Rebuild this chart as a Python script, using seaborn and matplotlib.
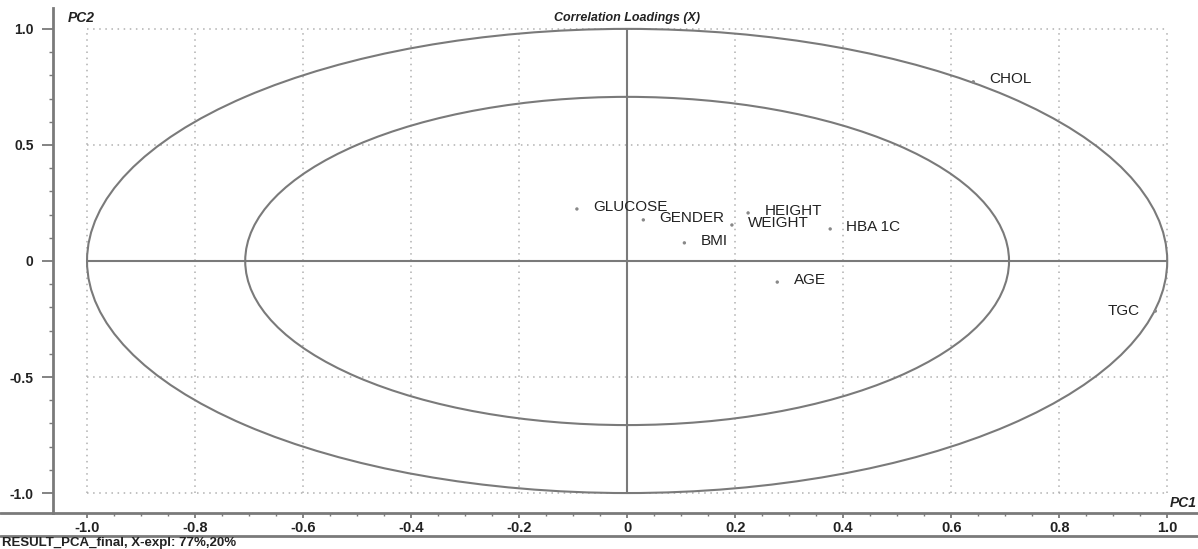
import numpy as np
import pandas as pd
import seaborn as sns
import matplotlib.pyplot as plt
from matplotlib.patches import Circle
from matplotlib.lines import Line2D

# loadings
variables = ['GLUCOSE', 'GENDER', 'BMI', 'WEIGHT', 'HEIGHT', 'HBA 1C', 'AGE', 'CHOL', 'TGC']
pc1 = [-0.093, 0.030, 0.106, 0.194, 0.224, 0.376, 0.278, 0.641, 0.978]
pc2 = [0.224, 0.177, 0.078, 0.155, 0.207, 0.138, -0.091, 0.772, -0.216]

x_ticks = [-1.0, -0.8, -0.6, -0.4, -0.2, 0.0, 0.2, 0.4, 0.6, 0.8, 1.0]
x_labels = ['-1.0', '-0.8', '-0.6', '-0.4', '-0.2', '0', '0.2', '0.4', '0.6', '0.8', '1.0']
y_ticks = [-1.0, -0.5, 0.0, 0.5, 1.0]
y_labels = ['-1.0', '-0.5', '0', '0.5', '1.0']

df = pd.DataFrame({'var': variables, 'PC1': pc1, 'PC2': pc2})

sns.set_style('white')
plt.rcParams['font.family'] = ['Liberation Sans', 'DejaVu Sans']

W, H = 1198, 549
fig = plt.figure(figsize=(W / 100, H / 100), dpi=100)
ax = fig.add_axes([53 / W, (H - 513) / H, (W - 53) / W, (513 - 8) / H])

grey = '#7a7a7a'

# dotted grid inside the unit box
for gx in x_ticks:
    ax.plot([gx, gx], [-1, 1], ls=(0, (1, 3)), color='#b0b0b0', lw=1.1, zorder=1)
for gy in y_ticks:
    ax.plot([-1, 1], [gy, gy], ls=(0, (1, 3)), color='#b0b0b0', lw=1.1, zorder=1)

# 100% and 50% explained variance ellipses
ax.add_patch(Circle((0, 0), 1.0, fill=False, ec=grey, lw=1.5, zorder=2))
ax.add_patch(Circle((0, 0), np.sqrt(0.5), fill=False, ec=grey, lw=1.5, zorder=2))
ax.plot([-1, 1], [0, 0], color=grey, lw=1.5, zorder=2)
ax.plot([0, 0], [-1, 1], color=grey, lw=1.5, zorder=2)

sns.scatterplot(data=df, x='PC1', y='PC2', ax=ax, color='#888888', s=6,
                edgecolor='none', zorder=3)

for _, r in df.iterrows():
    if r['var'] == 'TGC':
        ax.text(r['PC1'] - 0.028, r['PC2'], r['var'], ha='right', va='center',
                fontsize=11, color='#222222')
    else:
        ax.text(r['PC1'] + 0.03, r['PC2'] + 0.01, r['var'], ha='left', va='center',
                fontsize=11, color='#222222')

ax.set_xlim(-1.063, 1.057)
ax.set_ylim(-1.086, 1.09)
ax.set_xlabel('')
ax.set_ylabel('')

ax.set_xticks(x_ticks)
ax.set_xticklabels(x_labels, fontsize=10.5, fontweight='bold', color='#222222')
ax.set_yticks(y_ticks)
ax.set_yticklabels(y_labels, fontsize=10, fontweight='bold', color='#222222')
ax.set_xticks(np.arange(-1.0, 1.01, 0.05), minor=True)
ax.set_yticks(np.arange(-1.0, 1.01, 0.1), minor=True)
ax.tick_params(axis='both', which='both', bottom=True, left=True, direction='out')
ax.tick_params(axis='y', which='major', length=8, width=1.3, color=grey, pad=6)
ax.tick_params(axis='y', which='minor', length=3, width=1.0, color=grey)
ax.tick_params(axis='x', which='major', length=3.5, width=1.3, color=grey, pad=2)
ax.tick_params(axis='x', which='minor', length=2, width=1.0, color=grey)

for s in ['top', 'right']:
    ax.spines[s].set_visible(False)
for s in ['left', 'bottom']:
    ax.spines[s].set_color(grey)
    ax.spines[s].set_linewidth(2.0)

# bottom spine spans full width in the reference
fig.add_artist(Line2D([0, 53 / W], [(H - 513) / H] * 2, color=grey, lw=2.0))
fig.add_artist(Line2D([0, 1], [(H - 536) / H] * 2, color=grey, lw=2.0))

ax.text(0, 1.045, 'Correlation Loadings (X)', ha='center', va='center',
        fontsize=9, fontweight='bold', style='italic', color='#222222')
ax.text(-1.035, 1.045, 'PC2', ha='left', va='center',
        fontsize=10, fontweight='bold', style='italic', color='#222222')
ax.text(1.055, -1.045, 'PC1', ha='right', va='center',
        fontsize=10, fontweight='bold', style='italic', color='#222222')
fig.text(2 / W, 1 - 543 / H, 'RESULT_PCA_final, X-expl: 77%,20%', ha='left', va='center',
         fontsize=9.5, fontweight='bold', color='#222222')

fig.savefig('out.png', dpi=100)
